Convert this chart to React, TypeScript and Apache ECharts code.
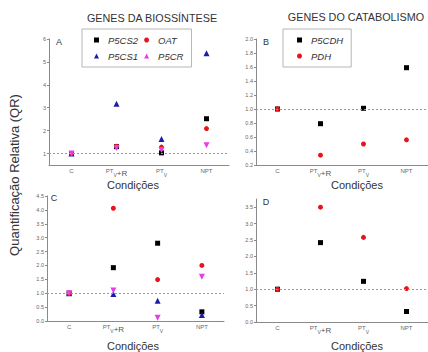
import React, { useEffect, useRef } from "react";
import * as echarts from "echarts";

const categories = ["C", "PTV+R", "PTV", "NPT"];

// Panel A (biosynthesis, condition set 1)
const P5CS2_A = [1.0, 1.3, 1.03, 2.52];
const P5CS1_A = [1.0, 3.17, 1.63, 5.38];
const OAT_A = [1.0, 1.32, 1.28, 2.09];
const P5CR_A = [1.0, 1.24, 1.16, 1.36];

// Panel B (catabolism, condition set 1)
const P5CDH_B = [1.0, 0.79, 1.01, 1.59];
const PDH_B = [1.0, 0.34, 0.5, 0.56];

// Panel C (biosynthesis, condition set 2)
const P5CS2_C = [1.0, 1.92, 2.8, 0.33];
const P5CS1_C = [1.0, 0.97, 0.73, 0.22];
const OAT_C = [1.0, 4.06, 1.49, 2.0];
const P5CR_C = [1.0, 1.1, 0.12, 1.59];

// Panel D (catabolism, condition set 2)
const P5CDH_D = [1.0, 2.42, 1.24, 0.32];
const PDH_D = [1.0, 3.5, 2.58, 1.02];

const ticksA = [1, 2, 3, 4, 5, 6];
const ticksB = [0.2, 0.4, 0.6, 0.8, 1.0, 1.2, 1.4, 1.6, 1.8, 2.0];
const ticksC = [0, 0.5, 1.0, 1.5, 2.0, 2.5, 3.0, 3.5, 4.0, 4.5];
const ticksD = [0, 0.5, 1.0, 1.5, 2.0, 2.5, 3.0, 3.5];

const FONT = "Liberation Sans, Arial, sans-serif";
const BLACK = "#000000";
const RED = "#e8141b";
const BLUE = "#1c1ca8";
const MAGENTA = "#e63ee6";

export default function App() {
  const ref = useRef<HTMLDivElement>(null);
  useEffect(() => {
    if (!ref.current) return;
    const chart = echarts.init(ref.current, null, { renderer: "svg" });

    const xAxisFor = (gridIndex: number) => ({
      type: "category",
      gridIndex,
      data: categories,
      boundaryGap: true,
      axisLine: { show: true, lineStyle: { color: "#8a8a8a", width: 1 } },
      axisTick: { show: false },
      axisLabel: {
        interval: 0,
        hideOverlap: false,
        margin: 3,
        color: "#666",
        fontFamily: FONT,
        formatter: (v: string) => {
          if (v === "PTV+R") return "{a|PT}{s|V}{b|+R}";
          if (v === "PTV") return "{a|PT}{s|V}";
          return "{a|" + v + "}";
        },
        rich: {
          a: { fontSize: 6, lineHeight: 9, color: "#666", fontFamily: FONT, verticalAlign: "top" },
          s: { fontSize: 5, lineHeight: 9, color: "#666", fontFamily: FONT, verticalAlign: "bottom" },
          b: { fontSize: 8, lineHeight: 9, color: "#555", fontFamily: FONT, verticalAlign: "bottom" },
        },
      },
    });

    const yAxisFor = (gridIndex: number, min: number, max: number, ticks: number[], dec: number) => ({
      type: "value",
      gridIndex,
      min,
      max,
      splitLine: { show: false },
      axisLine: { show: true, lineStyle: { color: "#8a8a8a", width: 1 } },
      axisTick: { show: true, length: 2, customValues: ticks, lineStyle: { color: "#8a8a8a" } },
      axisLabel: {
        customValues: ticks,
        margin: 3,
        fontSize: 5.5,
        color: "#666",
        fontFamily: FONT,
        formatter: (v: number) => v.toFixed(dec),
      },
    });

    const markLine = {
      silent: true,
      symbol: "none",
      label: { show: false },
      lineStyle: { type: [2, 2], color: "#9a9a9a", width: 1 },
      data: [{ yAxis: 1 }],
    };

    const scat = (
      name: string,
      data: number[],
      idx: number,
      symbol: string,
      color: string,
      size: number,
      rotate = 0,
      withLine = false
    ) => ({
      type: "scatter",
      name,
      data,
      xAxisIndex: idx,
      yAxisIndex: idx,
      symbol,
      symbolSize: size,
      symbolRotate: rotate,
      itemStyle: { color, opacity: 1 },
      ...(withLine ? { markLine } : {}),
    });

    const txt = (text: string, x: number, y: number, size: number, extra: any = {}) => ({
      type: "text",
      x,
      y,
      silent: true,
      style: {
        text,
        fontSize: size,
        fontFamily: FONT,
        fill: "#333",
        align: "center",
        verticalAlign: "middle",
        ...extra,
      },
    });

    const legendCommon = {
      itemWidth: 5,
      itemHeight: 5,
      itemGap: 6,
      borderColor: "#b5b5b5",
      borderWidth: 1,
      backgroundColor: "#fff",
      selectedMode: false,
      textStyle: {
        fontSize: 9.5,
        fontStyle: "italic",
        color: "#333",
        fontFamily: FONT,
        lineHeight: 5,
        padding: [0, 0, 0, 4],
      },
    };

    chart.setOption({
      animation: false,
      backgroundColor: "#ffffff",
      grid: [
        { left: 49, top: 39, width: 180, height: 126 },
        { left: 256, top: 39, width: 179, height: 126 },
        { left: 47, top: 196, width: 177, height: 125 },
        { left: 256, top: 199, width: 178, height: 123 },
      ],
      xAxis: [xAxisFor(0), xAxisFor(1), xAxisFor(2), xAxisFor(3)],
      yAxis: [
        yAxisFor(0, 0.5, 6, ticksA, 0),
        yAxisFor(1, 0.2, 2.0, ticksB, 1),
        yAxisFor(2, 0, 4.5, ticksC, 1),
        yAxisFor(3, 0, 3.75, ticksD, 1),
      ],
      legend: [
        {
          ...legendCommon,
          left: 82,
          top: 29,
          width: 100,
          padding: [6, 8, 6, 12],
          orient: "horizontal",
          data: ["P5CS2", "OAT", "P5CS1", "P5CR"],
        },
        {
          ...legendCommon,
          left: 283,
          top: 29,
          padding: [6, 8, 6, 14],
          orient: "vertical",
          data: ["P5CDH", "PDH"],
        },
      ],
      series: [
        scat("P5CS2", P5CS2_A, 0, "rect", BLACK, 5, 0, true),
        scat("P5CS1", P5CS1_A, 0, "triangle", BLUE, 6),
        scat("OAT", OAT_A, 0, "circle", RED, 5),
        scat("P5CR", P5CR_A, 0, "triangle", MAGENTA, 6, 180),

        scat("P5CDH", P5CDH_B, 1, "rect", BLACK, 5, 0, true),
        scat("PDH", PDH_B, 1, "circle", RED, 5),

        scat("P5CS2", P5CS2_C, 2, "rect", BLACK, 5, 0, true),
        scat("P5CS1", P5CS1_C, 2, "triangle", BLUE, 6),
        scat("OAT", OAT_C, 2, "circle", RED, 5),
        scat("P5CR", P5CR_C, 2, "triangle", MAGENTA, 6, 180),

        scat("P5CDH", P5CDH_D, 3, "rect", BLACK, 5, 0, true),
        scat("PDH", PDH_D, 3, "circle", RED, 5),
      ],
      graphic: [
        txt("GENES DA BIOSSÍNTESE", 152, 18, 10.8),
        txt("GENES DO CATABOLISMO", 356, 17, 10.8),
        txt("Condições", 133, 185, 11),
        txt("Condições", 357, 185, 11),
        txt("Condições", 133, 346, 11),
        txt("Condições", 357, 346, 11),
        txt("A", 59, 42, 9),
        txt("B", 266, 42, 9),
        txt("C", 54, 198, 9),
        txt("D", 266, 202, 9),
        {
          type: "text",
          x: 14,
          y: 175,
          rotation: Math.PI / 2,
          silent: true,
          style: {
            text: "Quantificação Relativa (QR)",
            fontSize: 13,
            fontFamily: FONT,
            fill: "#333",
            align: "center",
            verticalAlign: "middle",
          },
        },
      ],
    });

    return () => chart.dispose();
  }, []);

  return (
    <div
      ref={ref}
      style={{ position: "fixed", left: 0, top: 0, width: 428, height: 352 }}
    />
  );
}
